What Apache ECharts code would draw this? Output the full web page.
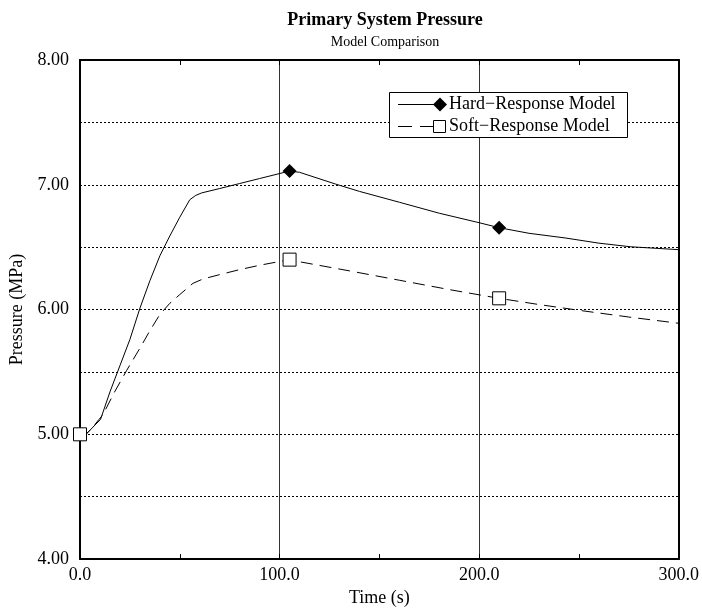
<!DOCTYPE html>
<html>
<head>
<meta charset="utf-8">
<script src="https://cdn.jsdelivr.net/npm/echarts@6/dist/echarts.min.js"></script>
<style>
html,body{margin:0;padding:0;background:#fff;}
#chart{width:702px;height:612px;}
</style>
</head>
<body>
<div id="chart"></div>
<script>
// ---- data ----
var hardTime     = [0, 3, 10.3, 15, 20, 25, 30, 35, 40, 45, 50, 55, 58, 61, 70, 80, 90, 105, 110, 128, 140, 160, 180, 200, 210, 225, 243, 260, 276, 300];
var hardPressure = [5.00, 5.00, 5.12, 5.34, 5.55, 5.76, 6.01, 6.23, 6.43, 6.59, 6.74, 6.88, 6.915, 6.935, 6.97, 7.01, 7.05, 7.11, 7.10, 7.006, 6.947, 6.86, 6.772, 6.696, 6.656, 6.611, 6.574, 6.532, 6.503, 6.48];
var softTime     = [0, 3, 6, 11.6, 17, 23.3, 30, 35, 40, 45, 50, 56.6, 61.6, 70, 80, 90, 105, 110, 135, 160, 185, 210, 230, 250, 275, 300];
var softPressure = [5.00, 5.00, 5.05, 5.16, 5.33, 5.51, 5.69, 5.83, 5.96, 6.05, 6.12, 6.21, 6.245, 6.28, 6.32, 6.355, 6.40, 6.383, 6.31, 6.235, 6.16, 6.09, 6.04, 5.994, 5.94, 5.89];
var hardMarkerTime = [0, 105, 210];
var hardMarkerPressure = [5.00, 7.11, 6.656];
var softMarkerTime = [0, 105, 210];
var softMarkerPressure = [5.00, 6.40, 6.09];
var xTicks = [0, 100, 200, 300];
var yTicks = [4, 5, 6, 7, 8];
var seriesNames = ['Hard\u2212Response Model', 'Soft\u2212Response Model'];
var titleText = 'Primary System Pressure';
var subtitleText = 'Model Comparison';
var xName = 'Time (s)';
var yName = 'Pressure (MPa)';

function zip(a, b) { return a.map(function (v, i) { return [v, b[i]]; }); }

var FONT = 'Liberation Serif';
var chart = echarts.init(document.getElementById('chart'), null, {renderer: 'canvas'});

var option = {
  animation: false,
  backgroundColor: '#fff',
  textStyle: {fontFamily: FONT, color: '#000'},
  title: {
    text: titleText,
    subtext: subtitleText,
    left: 380,
    textAlign: 'center',
    top: 6,
    itemGap: 6,
    textStyle: {fontFamily: FONT, fontSize: 18, fontWeight: 'bold', color: '#000'},
    subtextStyle: {fontFamily: FONT, fontSize: 14, color: '#000'}
  },
  grid: {left: 80, right: 21, top: 60, bottom: 49, containLabel: false},
  xAxis: [{
    type: 'value', position: 'bottom', min: xTicks[0], max: xTicks[xTicks.length - 1], interval: 100,
    name: xName, nameLocation: 'middle', nameGap: 29,
    nameTextStyle: {fontFamily: FONT, fontSize: 18, color: '#000'},
    axisLine: {show: true, onZero: false, lineStyle: {color: '#000', width: 2}},
    axisTick: {show: true, inside: true, length: 5, lineStyle: {color: '#000'}},
    minorTick: {show: true, splitNumber: 2, length: 5, lineStyle: {color: '#000', width: 1}},
    axisLabel: {fontFamily: FONT, fontSize: 18, color: '#000', margin: 7, formatter: function (v) { return v.toFixed(1); }},
    splitLine: {show: true, lineStyle: {color: '#333', width: 1, type: 'solid'}}
  }, {
    type: 'value', position: 'top', min: xTicks[0], max: xTicks[xTicks.length - 1], interval: 100,
    axisLine: {show: true, onZero: false, lineStyle: {color: '#000', width: 2}},
    axisTick: {show: true, inside: true, length: 5, lineStyle: {color: '#000'}},
    minorTick: {show: true, splitNumber: 2, length: 5, lineStyle: {color: '#000', width: 1}},
    axisLabel: {show: false},
    splitLine: {show: false}
  }],
  yAxis: [{
    type: 'value', position: 'left', min: yTicks[0], max: yTicks[yTicks.length - 1], interval: 0.5,
    name: yName, nameLocation: 'middle', nameGap: 48, nameRotate: 90,
    nameTextStyle: {fontFamily: FONT, fontSize: 18, color: '#000'},
    axisLine: {show: true, onZero: false, lineStyle: {color: '#000', width: 2}},
    axisTick: {show: false},
    axisLabel: {fontFamily: FONT, fontSize: 18, color: '#000', margin: 11,
      formatter: function (v) { return yTicks.indexOf(v) >= 0 ? v.toFixed(2) : ''; }},
    splitLine: {show: true, lineStyle: {color: '#000', width: 1, type: [2, 2]}}
  }, {
    type: 'value', position: 'right', min: yTicks[0], max: yTicks[yTicks.length - 1], interval: 0.5,
    axisLine: {show: true, onZero: false, lineStyle: {color: '#000', width: 2}},
    axisTick: {show: false}, axisLabel: {show: false}, splitLine: {show: false}
  }],
  series: [{
    name: seriesNames[0], type: 'line', data: zip(hardTime, hardPressure),
    showSymbol: false, symbol: 'none', lineStyle: {color: '#000', width: 1, type: 'solid'}, z: 3
  }, {
    name: seriesNames[1], type: 'line', data: zip(softTime, softPressure),
    showSymbol: false, symbol: 'none', lineStyle: {color: '#000', width: 1, type: [12, 7]}, z: 3
  }, {
    name: seriesNames[0] + ' markers', type: 'scatter', data: zip(hardMarkerTime, hardMarkerPressure),
    symbol: 'diamond', symbolSize: 14, itemStyle: {color: '#000', opacity: 1}, z: 4
  }, {
    name: seriesNames[1] + ' markers', type: 'scatter', data: zip(softMarkerTime, softMarkerPressure),
    symbol: 'rect', symbolSize: 13, itemStyle: {color: '#fff', borderColor: '#000', borderWidth: 1, opacity: 1}, z: 5
  }],
  graphic: [
    {type: 'rect', z: 100, shape: {x: 389.5, y: 92.5, width: 238, height: 45}, style: {fill: '#fff', stroke: '#000', lineWidth: 1}},
    {type: 'line', z: 101, shape: {x1: 398, y1: 104.5, x2: 439, y2: 104.5}, style: {stroke: '#000', lineWidth: 1}},
    {type: 'polygon', z: 102, shape: {points: [[440, 97.5], [447, 104.5], [440, 111.5], [433, 104.5]]}, style: {fill: '#000'}},
    {type: 'text', z: 102, x: 449, y: 104, style: {text: seriesNames[0], font: '18px "Liberation Serif"', fill: '#000', verticalAlign: 'middle', align: 'left'}},
    {type: 'line', z: 101, shape: {x1: 398, y1: 126.5, x2: 434, y2: 126.5}, style: {stroke: '#000', lineWidth: 1, lineDash: [14, 8]}},
    {type: 'rect', z: 102, shape: {x: 433.5, y: 120.5, width: 12, height: 12}, style: {fill: '#fff', stroke: '#000', lineWidth: 1}},
    {type: 'text', z: 102, x: 449, y: 126, style: {text: seriesNames[1], font: '18px "Liberation Serif"', fill: '#000', verticalAlign: 'middle', align: 'left'}}
  ]
};
chart.setOption(option);
</script>
</body>
</html>
